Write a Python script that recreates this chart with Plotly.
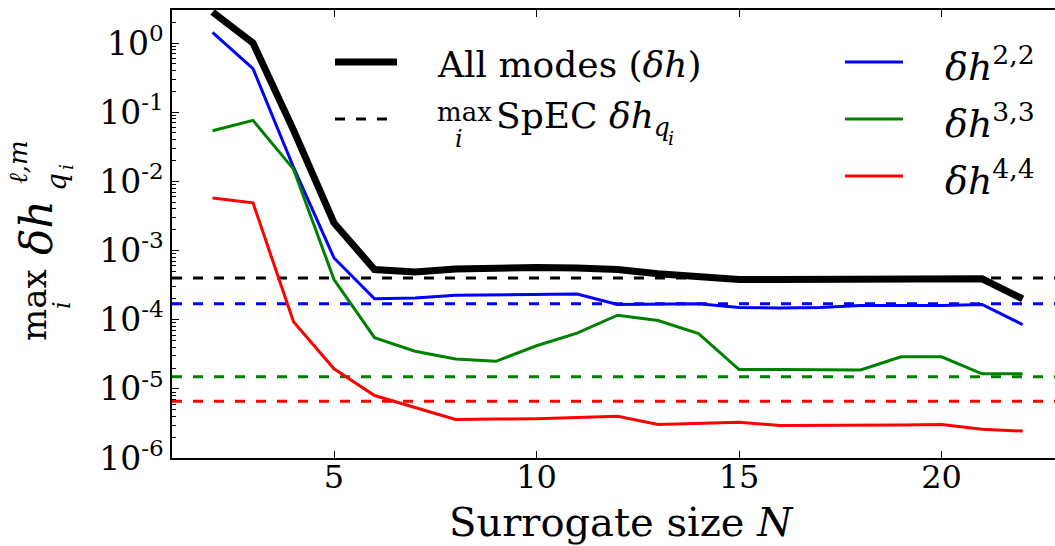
import math
import plotly.graph_objects as go

# Surrogate size and maximum errors per mode
N = list(range(2, 23))
all_modes = [2.8, 1.0, 0.055, 2.5e-3, 5.3e-4, 4.9e-4, 5.4e-4, 5.6e-4, 5.7e-4, 5.6e-4,
             5.3e-4, 4.6e-4, 4.2e-4, 3.8e-4, 3.8e-4, 3.8e-4, 3.9e-4, 3.8e-4, 3.8e-4,
             3.9e-4, 2.0e-4]
h22 = [1.42, 0.425, 0.016, 7.8e-4, 2.0e-4, 2.05e-4, 2.25e-4, 2.3e-4, 2.35e-4, 2.35e-4,
       1.66e-4, 1.68e-4, 1.7e-4, 1.5e-4, 1.48e-4, 1.5e-4, 1.6e-4, 1.6e-4, 1.6e-4,
       1.66e-4, 8.5e-5]
h33 = [0.054, 0.076, 0.015, 3.8e-4, 5.5e-5, 3.5e-5, 2.7e-5, 2.5e-5, 4.2e-5, 6.4e-5,
       1.16e-4, 9.7e-5, 6.3e-5, 1.9e-5, 1.9e-5, 1.9e-5, 1.87e-5, 2.9e-5, 2.9e-5,
       1.65e-5, 1.65e-5]
h44 = [5.75e-3, 4.9e-3, 9.3e-5, 1.95e-5, 8.0e-6, 5.3e-6, 3.6e-6, 3.65e-6, 3.7e-6, 3.85e-6,
       4.0e-6, 3.05e-6, 3.2e-6, 3.3e-6, 2.95e-6, 2.95e-6, 3.0e-6, 3.0e-6, 3.05e-6,
       2.6e-6, 2.45e-6]

# SpEC reference errors (horizontal dashed levels)
spec_all = 4.0e-4
spec22 = 1.7e-4
spec33 = 1.5e-5
spec44 = 6.6e-6

x_limits = [1, 22.8]
y_limits = [1e-6, 3.0]
x_ticks = [5, 10, 15, 20]
y_exponents = [0, -1, -2, -3, -4, -5, -6]

W, H = 1055, 546
L, R, T, B = 172, 0, 10, 88
PW, PH = W - L - R, H - T - B
FONT = "DejaVu Serif"


def px(x):
    return (x - L) / PW


def py(y):
    return (H - B - y) / PH


fig = go.Figure()

series = [
    (all_modes, spec_all, "black", 7),
    (h22, spec22, "#0000ff", 3),
    (h33, spec33, "#008000", 3),
    (h44, spec44, "#ff0000", 3),
]
for vals, spec, color, lw in series:
    fig.add_trace(go.Scatter(x=N, y=vals, mode="lines",
                             line=dict(color=color, width=lw), showlegend=False))
    fig.add_trace(go.Scatter(x=x_limits, y=[spec, spec], mode="lines",
                             line=dict(color=color, width=3, dash="10px,11px"),
                             showlegend=False))

minor_vals = [k * 10 ** e for e in range(-6, 1) for k in range(2, 10)]

fig.update_xaxes(
    range=x_limits, showgrid=False, zeroline=False,
    showline=True, linecolor="black", linewidth=1.5, mirror="ticks",
    ticks="inside", ticklen=7, tickwidth=1, tickcolor="black",
    tickvals=x_ticks, ticktext=[str(v) for v in x_ticks],
    tickfont=dict(family=FONT, size=32, color="black"),
    ticklabelstandoff=-10,
)
fig.update_yaxes(
    type="log", range=[math.log10(y_limits[0]), math.log10(y_limits[1])],
    showgrid=False, zeroline=False,
    showline=True, linecolor="black", linewidth=1.5, mirror=False,
    ticks="inside", ticklen=7, tickwidth=1, tickcolor="black",
    tickvals=[10 ** e for e in y_exponents],
    ticktext=["10<sup>%d</sup>" % e for e in y_exponents],
    tickfont=dict(family=FONT, size=33, color="black"),
    minor=dict(tickvals=minor_vals, ticks="inside", ticklen=4,
               tickcolor="black", showgrid=False),
)

annotations = []
shapes = []


def text_at(x, y, text, size, xanchor="left", angle=0):
    annotations.append(dict(x=px(x), y=py(y), xref="paper", yref="paper",
                            text=text, showarrow=False, xanchor=xanchor,
                            yanchor="middle", textangle=angle,
                            font=dict(family=FONT, size=size, color="black")))


def sample(x0, x1, y, color, width, dash="solid"):
    shapes.append(dict(type="line", xref="paper", yref="paper",
                       x0=px(x0), x1=px(x1), y0=py(y), y1=py(y),
                       line=dict(color=color, width=width, dash=dash)))


# x-axis title
text_at(621, 522, "Surrogate size <i>N</i>", 40, xanchor="center")

# legend, left column
sample(335, 397, 62, "black", 7)
text_at(435, 64, "All modes (<i>δh</i>)", 36)
sample(335, 397, 119, "black", 3, "10px,11px")
text_at(435, 112, "max", 26)
text_at(453, 139, "<i>i</i>", 24)
text_at(494, 119, "SpEC <i>δh</i><sub><i>q</i></sub>", 36)
text_at(666, 138, "<i>i</i>", 19)

# legend, right column
for yy, color, lab in [(62, "#0000ff", "2,2"), (119, "#008000", "3,3"), (176, "#ff0000", "4,4")]:
    sample(845, 903, yy, color, 3)
    text_at(943, yy + 2, "<i>δh</i><sup>%s</sup>" % lab, 38)

# y-axis label built from pieces
text_at(34, 305, "max", 34, xanchor="center", angle=-90)
text_at(62, 305, "<i>i</i>", 24, xanchor="center", angle=-90)
text_at(36, 228, "<i>δh</i>", 44, xanchor="center", angle=-90)
text_at(18, 162, "<i>ℓ,m</i>", 26, xanchor="center", angle=-90)
text_at(56, 182, "<i>q</i>", 28, xanchor="center", angle=-90)
text_at(66, 167, "<i>i</i>", 19, xanchor="center", angle=-90)

fig.update_layout(
    width=W, height=H, margin=dict(l=L, r=R, t=T, b=B),
    paper_bgcolor="white", plot_bgcolor="white",
    annotations=annotations, shapes=shapes, showlegend=False,
)

fig.write_html("out.html")
